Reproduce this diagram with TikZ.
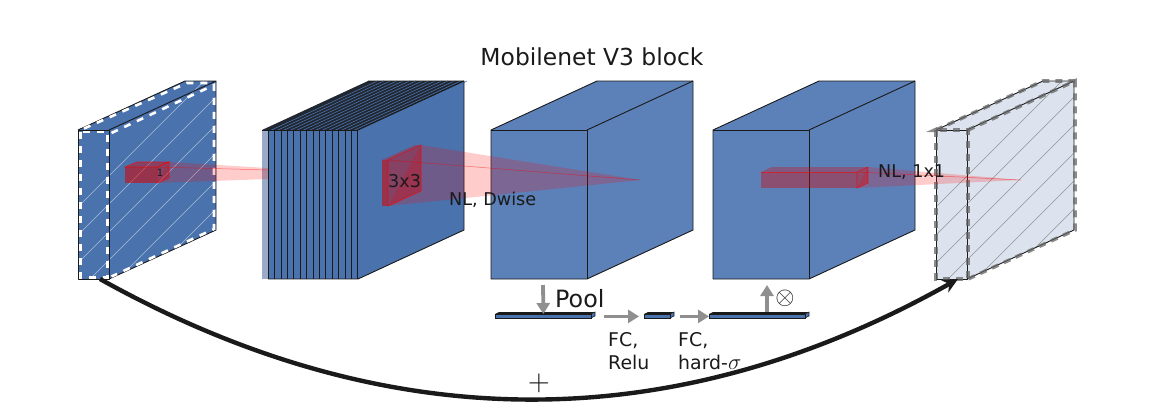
\documentclass[tikz,border=0pt]{standalone}
\usepackage{graphicx}
\usepackage{fontspec}
\setmainfont{DejaVu Sans}
\usetikzlibrary{arrows.meta}
\definecolor{blockdark}{HTML}{4A72AD}
\definecolor{blocklight}{HTML}{5C80B8}
\definecolor{blockpale}{HTML}{DCE3EE}
\definecolor{blockghost}{HTML}{9BAAC6}
\definecolor{inkgray}{HTML}{8F8F8F}
\definecolor{inkblack}{HTML}{1A1A1A}
\tikzset{
        edge/.style={draw=inkblack, line width=0.9pt, line join=round},
        whitedash/.style={draw=white, line width=2.6pt, dash pattern=on 7pt off 7pt},
        graydash/.style={draw=black!60, opacity=0.75, line width=3.6pt, dash pattern=on 7pt off 6pt},
        cone/.style={fill=red, fill opacity=0.2},
        redbox/.style={draw=red, draw opacity=0.7, line width=0.6pt, fill=red!85!black, fill opacity=0.42},
        redline/.style={draw=red, line width=0.5pt, opacity=0.5},
        label/.style={text=inkblack, inner sep=0pt, font=\fontsize{17.6}{23}\selectfont},
        flow/.style={draw=inkgray, line width=3.8pt, -{Triangle[length=11pt,width=13pt]}},
        strip/.style={draw=inkblack, line width=0.8pt, fill=blockdark, inner sep=0pt, minimum height=4pt, anchor=north west}
}
\begin{document}
\begin{tikzpicture}[x=1pt, y=-1pt]

        \useasboundingbox (0, 0) rectangle (1155, 415);

        % thin input and output blocks
        \foreach \x/\fillc/\hatchc/\op in {78/blockdark/white/0.55, 936/blockpale/gray/0.8}
        {
                \fill[\fillc] (\x, 130) -- (\x+107, 81) -- (\x+138, 81) -- (\x+138, 230) -- (\x+31, 279) -- (\x, 279) -- cycle;
                \begin{scope}
                        \clip (\x, 130) -- (\x+107, 81) -- (\x+138, 81) -- (\x+138, 230) -- (\x+31, 279) -- (\x, 279) -- cycle;
                        \foreach \c in {0, 28, ..., 308}
                        {
                                \draw[\hatchc, opacity=\op, line width=0.4pt] (\x, 207+\c) -- (\x+200, 7+\c);
                        }
                \end{scope}
                \draw[edge] (\x, 130) rectangle (\x+31, 279);
                \draw[edge] (\x, 130) -- (\x+107, 81) -- (\x+138, 81) -- (\x+31, 130);
                \draw[edge] (\x+138, 81) -- (\x+138, 230) -- (\x+31, 279);
        }

        % dashes over the edges of those two
        \draw[whitedash] (80.5, 132) rectangle (107.5, 277.5);
        \draw[whitedash] (111.5, 133) -- (214, 85) -- (214, 229) -- (111.5, 276.5);
        \draw[whitedash] (84, 128.5) -- (187, 83) -- (214, 83);
        \fill[black!60, opacity=0.75] (926, 132) -- (937, 127) -- (937, 132) -- cycle;
        \draw[graydash] (936, 130) rectangle (968, 279);
        \draw[graydash] (968, 130) -- (1075, 81) -- (1075, 230) -- (968, 279);
        \draw[graydash] (936, 130) -- (1043, 81) -- (1075, 81);

        % first slice of the stack sits behind the cone
        \fill[blockghost] (262, 130) rectangle (268, 279);

        % cone out of the first block
        \fill[cone] (169, 162) -- (268, 168) -- (268, 179) -- (157, 183) -- cycle;
        \draw[redline] (157, 167) -- (268, 170);
        \draw[redbox] (157, 167) -- (169, 162) -- (169, 178) -- (157, 183) -- cycle;
        \draw[redbox] (125, 167) -- (137, 162) -- (169, 162) -- (157, 167) -- cycle;
        \fill[red!85!black, fill opacity=0.55] (125, 167) rectangle (157, 183);

        % stack of channels
        \fill[blockdark] (358, 130) -- (464, 81) -- (464, 230) -- (358, 279) -- cycle;
        \fill[inkblack!85!blockdark] (262, 130) -- (368, 81) -- (464, 81) -- (358, 130) -- cycle;
        \fill[blockdark] (268, 130) rectangle (358, 279);
        \foreach \i in {0, 1, ..., 14}
        {
                \draw[blockdark, line width=0.6pt] (268.3+6.4*\i+3.2, 130) -- (374.3+6.4*\i+3.2, 81);
                \draw[edge] (268.3+6.4*\i, 130) -- (268.3+6.4*\i, 279);
        }
        \draw[edge] (262, 130) -- (358, 130);
        \draw[edge] (268, 279) -- (358, 279) -- (464, 230) -- (464, 81) -- (368, 81);
        \draw[edge] (358, 130) -- (464, 81);

        % two full blocks
        \foreach \x in {491, 713}
        {
                \draw[edge, fill=blocklight] (\x, 130) -- (\x+106, 81) -- (\x+202, 81) -- (\x+202, 230) -- (\x+96, 279) -- (\x, 279) -- cycle;
                \draw[edge] (\x, 130) -- (\x+96, 130) -- (\x+96, 279);
                \draw[edge] (\x+96, 130) -- (\x+202, 81);
        }

        % cones of the two convolutions
        \fill[cone] (421, 145) -- (640, 180) -- (388, 206) -- cycle;
        \draw[redline] (388, 160) -- (640, 180);
        \draw[redbox] (388, 160) -- (421, 145) -- (421, 191) -- (388, 206) -- cycle;
        \fill[red!85!black, fill opacity=0.3] (382, 160) -- (415, 145) -- (421, 145) -- (388, 160) -- cycle;
        \fill[red!85!black, fill opacity=0.55] (382, 160) rectangle (388, 206);

        \fill[cone] (868, 167) -- (1021, 180) -- (857, 188) -- cycle;
        \draw[redline] (857, 172) -- (1021, 180);
        \draw[redbox] (857, 172) -- (868, 167) -- (868, 183) -- (857, 188) -- cycle;
        \fill[red!85!black, fill opacity=0.3] (761, 172) -- (772, 167) -- (868, 167) -- (857, 172) -- cycle;
        \fill[red!85!black, fill opacity=0.38] (761, 172) rectangle (857, 188);
        \draw[redline] (761, 172) -- (857, 172);

        % squeeze and excite branch
        \foreach \name/\x/\w in {strippool/495/96, stripfc/644/26, stripscale/709/96}
        {
                \fill[inkblack] (\x, 314) -- (\x+4, 312) -- (\x+\w+4, 312) -- (\x+\w, 314) -- cycle;
                \draw[line width=0.6pt, draw=inkblack, fill=blockdark] (\x+\w, 314) -- (\x+\w+4, 312) -- (\x+\w+4, 316) -- (\x+\w, 318) -- cycle;
                \node[strip, minimum width=\w pt] (\name) at (\x, 314) {};
        }
        \coordinate (poolin) at (543, 285);
        \coordinate (scaleout) at (767, 285);
        \coordinate (scalefoot) at (767, 312);
        \draw[flow] (poolin) -- (strippool.north);
        \draw[flow, shorten <=12pt, shorten >=5pt] (strippool.east) -- (stripfc.west);
        \draw[flow, shorten <=9pt] (stripfc.east) -- (stripscale.west);
        \draw[flow] (scalefoot) -- (scaleout);

        % residual connection
        \coordinate (skipfrom) at (100, 279);
        \coordinate (skipto) at (958, 279);
        \draw[inkblack, line width=4.4pt, -{Stealth[length=15pt,width=14pt]}] (skipfrom) .. controls (387, 439) and (673, 439) .. (skipto);

        \node[label, anchor=base, font=\fontsize{23.4}{28}\selectfont] (title) at (592, 65) {Mobilenet V3 block};
        \node[label, font=\fontsize{10}{12}\selectfont] (kone) at (160, 173) {1};
        \node[label, anchor=base west] (kthree) at (388, 187) {3x3};
        \node[label, anchor=base west] (dwise) at (449, 205) {NL, Dwise};
        \node[label, anchor=base west] (oneone) at (878, 177) {NL, 1x1};
        \node[label, anchor=base west, font=\fontsize{23.8}{28}\selectfont] (pool) at (555, 307) {Pool};
        \node[label, anchor=north west, align=left, font=\fontsize{18.9}{23}\selectfont] (fcrelu) at (608, 332) {FC,\\Relu};
        \node[label, anchor=north west, align=left, font=\fontsize{18.9}{23}\selectfont] (fchard) at (678, 332) {FC,\\hard-\scalebox{1.3}{$\sigma$}};
        \node[label, font=\normalsize, scale=2.47] (times) at (785, 298) {$\otimes$};
        \node[label, font=\normalsize, scale=2.85] (plus) at (539, 383) {$+$};

\end{tikzpicture}
\end{document}
